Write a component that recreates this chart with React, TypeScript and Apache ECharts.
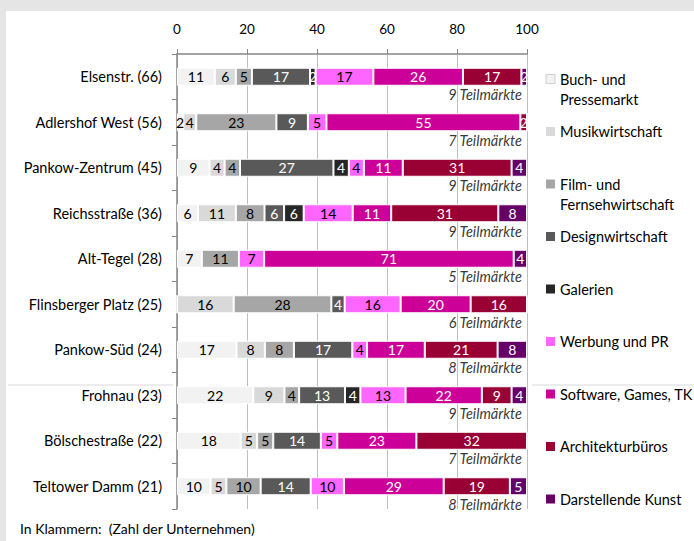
import React, { useEffect, useRef } from "react";
import * as echarts from "echarts";

const categories = [
  "Elsenstr. (66)",
  "Adlershof West (56)",
  "Pankow-Zentrum (45)",
  "Reichsstraße (36)",
  "Alt-Tegel (28)",
  "Flinsberger Platz (25)",
  "Pankow-Süd (24)",
  "Frohnau (23)",
  "Bölschestraße (22)",
  "Teltower Damm (21)",
];

const seriesNames = [
  "Buch- und\nPressemarkt",
  "Musikwirtschaft",
  "Film- und\nFernsehwirtschaft",
  "Designwirtschaft",
  "Galerien",
  "Werbung und PR",
  "Software, Games, TK",
  "Architekturbüros",
  "Darstellende Kunst",
];

const seriesColors = ["#f2f2f2", "#d9d9d9", "#a6a6a6", "#595959", "#262626", "#ff66ff", "#cc0099", "#990033", "#660066"];
const labelColors = ["#000", "#000", "#000", "#fff", "#fff", "#000", "#fff", "#fff", "#fff"];

const buch = [10.8, 1.8, 9.3, 6.0, 7.1, 0, 17.0, 21.8, 18.2, 9.6];
const musik = [6.0, 3.7, 4.3, 10.8, 0, 16.2, 8.1, 8.9, 4.7, 4.5];
const film = [4.6, 22.9, 4.4, 8.2, 10.6, 27.9, 8.3, 4.2, 4.6, 9.8];
const design = [16.6, 9.0, 26.7, 5.6, 0, 3.8, 16.7, 13.1, 13.6, 14.3];
const galerien = [1.6, 0, 4.4, 5.6, 0, 0, 0, 4.4, 0, 0];
const werbung = [16.5, 5.3, 4.3, 14.0, 7.2, 16.0, 4.2, 12.9, 4.7, 9.5];
const software = [25.6, 55.4, 11.1, 11.0, 71.3, 20.0, 16.5, 21.8, 22.6, 28.5];
const architektur = [16.7, 1.9, 31.1, 30.6, 0, 16.1, 20.8, 8.5, 31.6, 18.9];
const darstellende = [1.6, 0, 4.4, 8.2, 3.8, 0, 8.4, 4.4, 0, 4.9];

const teilmaerkte = [9, 7, 9, 9, 5, 6, 8, 9, 7, 8];

const xTicks = [0, 20, 40, 60, 80, 100];

const FONT = "Lato, 'Open Sans', sans-serif";

export default function App() {
  const ref = useRef<HTMLDivElement>(null);

  useEffect(() => {
    document.body.style.margin = "0";
    if (!ref.current) return;
    const chart = echarts.init(ref.current, undefined, { renderer: "svg" });
    const values = [buch, musik, film, design, galerien, werbung, software, architektur, darstellende];

    const barSeries = values.map((arr, i) => ({
      name: seriesNames[i],
      type: "bar",
      stack: "total",
      barWidth: 18,
      data: arr,
      itemStyle: { color: seriesColors[i], borderColor: "#ffffff", borderWidth: 1 },
      label: {
        show: true,
        position: "inside",
        color: labelColors[i],
        fontFamily: FONT,
        fontSize: 14,
        formatter: (p: any) => (p.value > 0 ? String(Math.round(p.value)) : ""),
      },
    }));

    const teilSeries = {
      name: "Teilmärkte",
      type: "scatter",
      symbolSize: 0,
      data: categories.map((c) => [xTicks[xTicks.length - 1], c]),
      label: {
        show: true,
        position: "left",
        distance: 5,
        offset: [0, 18],
        fontFamily: FONT,
        fontStyle: "italic",
        fontSize: 14.5,
        color: "#000",
        formatter: (p: any) => `${teilmaerkte[p.dataIndex]} Teilmärkte`,
      },
      z: 5,
    };

    const legendStartY = 79;
    const legendStep = 52.5;
    const legendGraphics: any[] = [];
    seriesNames.forEach((n, i) => {
      const cy = legendStartY + i * legendStep;
      legendGraphics.push({
        type: "rect",
        shape: { x: 546, y: cy - 4.5, width: 9, height: 9 },
        style: { fill: seriesColors[i], stroke: i === 0 ? "#d0d0d0" : undefined, lineWidth: 1 },
      });
      legendGraphics.push({
        type: "text",
        x: 560,
        y: cy - 10,
        style: {
          text: n,
          fontFamily: FONT,
          fontSize: 14.5,
          lineHeight: 20,
          fill: "#000",
          verticalAlign: "top",
          align: "left",
        },
      });
    });

    chart.setOption({
      animation: false,
      backgroundColor: "#ffffff",
      grid: { left: 177, right: 167, top: 54, bottom: 32, containLabel: false },
      xAxis: {
        type: "value",
        position: "top",
        min: 0,
        max: 100,
        interval: 20,
        axisLine: { show: true, lineStyle: { color: "#868686", width: 1.5 } },
        axisTick: { show: true, length: 5, lineStyle: { color: "#868686" } },
        axisLabel: { margin: 18, fontFamily: FONT, fontSize: 13.5, color: "#000" },
        splitLine: { show: true, lineStyle: { color: "#bfbfbf", width: 1 } },
      },
      yAxis: {
        type: "category",
        inverse: true,
        data: categories,
        axisLine: { show: true, lineStyle: { color: "#868686", width: 1.5 } },
        axisTick: { show: true, length: 5, lineStyle: { color: "#868686" } },
        axisLabel: { margin: 15, fontFamily: FONT, fontSize: 14.5, color: "#000" },
      },
      series: [...barSeries, teilSeries],
      graphic: [
        { type: "rect", shape: { x: 0, y: 0, width: 694, height: 11 }, style: { fill: "#e5e5e5" }, z: 100 },
        { type: "rect", shape: { x: 0, y: 0, width: 6, height: 541 }, style: { fill: "#e5e5e5" }, z: 100 },
        { type: "line", shape: { x1: 8, y1: 385, x2: 173, y2: 385 }, style: { stroke: "#d9d9d9", lineWidth: 1 } },
        { type: "line", shape: { x1: 532, y1: 385, x2: 694, y2: 385 }, style: { stroke: "#d9d9d9", lineWidth: 1 } },
        ...legendGraphics,
        {
          type: "text",
          x: 20,
          y: 528,
          style: {
            text: "In Klammern:  (Zahl der Unternehmen)",
            fontFamily: FONT,
            fontSize: 14,
            fill: "#000",
            verticalAlign: "middle",
          },
        },
      ],
    });

    return () => chart.dispose();
  }, []);

  return (
    <div
      ref={ref}
      style={{ position: "absolute", left: 0, top: 0, width: 694, height: 541 }}
    />
  );
}
